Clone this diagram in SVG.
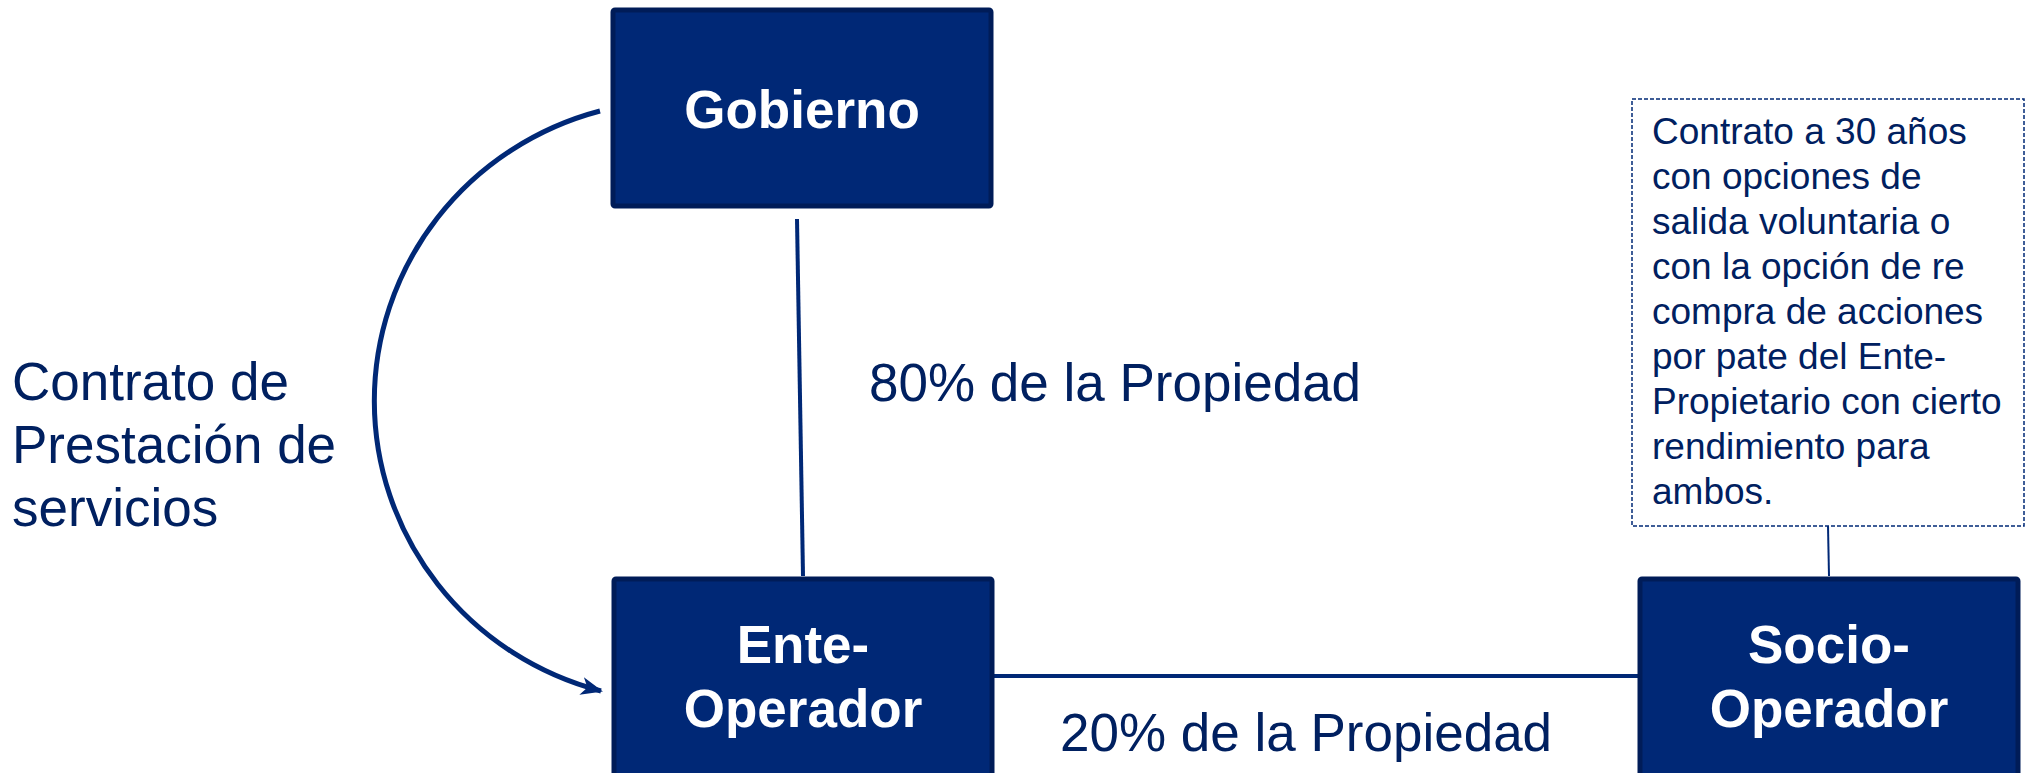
<svg xmlns="http://www.w3.org/2000/svg" width="2033" height="773" viewBox="0 0 2033 773">
  <style>
    .box { fill: #002876; stroke: #001c58; stroke-width: 5; }
    .boxtxt { font-family: "Liberation Sans", Arial, sans-serif; font-weight: bold; font-size: 53px; fill: #ffffff; text-anchor: middle; }
    .lbl { font-family: "Liberation Sans", Arial, sans-serif; font-size: 53px; fill: #002060; }
    .note { font-family: "Liberation Sans", Arial, sans-serif; font-size: 37px; fill: #002060; }
    .conn { stroke: #002876; fill: none; }
  </style>
  <defs>
    <marker id="arrow" viewBox="0 0 22 18" refX="20" refY="9" markerWidth="22" markerHeight="18" markerUnits="userSpaceOnUse" orient="auto">
      <path d="M0,0 L22,9 L0,18 L6,9 Z" fill="#002876"/>
    </marker>
  </defs>
  <rect width="2033" height="773" fill="#ffffff"/>

  <g id="connectors">
    <line class="conn" x1="797" y1="219" x2="803" y2="576" stroke-width="4"/>
    <line class="conn" x1="994" y1="676" x2="1639" y2="676" stroke-width="4"/>
    <line class="conn" x1="1828" y1="526" x2="1829" y2="576" stroke-width="2"/>
    <path class="conn" d="M600,111 A304,300 0 0 0 601,691" stroke-width="5" marker-end="url(#arrow)"/>
  </g>

  <g id="gobierno">
    <rect class="box" x="613" y="10" width="378" height="196" rx="2"/>
    <text class="boxtxt" x="802" y="128">Gobierno</text>
  </g>

  <g id="ente-operador">
    <rect class="box" x="614" y="579" width="378" height="210" rx="2"/>
    <text class="boxtxt" x="803" y="663">Ente-</text>
    <text class="boxtxt" x="803" y="727">Operador</text>
  </g>

  <g id="socio-operador">
    <rect class="box" x="1640" y="579" width="378" height="210" rx="2"/>
    <text class="boxtxt" x="1829" y="663">Socio-</text>
    <text class="boxtxt" x="1829" y="727">Operador</text>
  </g>

  <g id="nota">
    <rect x="1632" y="99" width="392" height="427" fill="#ffffff" stroke="#002876" stroke-width="1.5" stroke-dasharray="4,2"/>
    <text class="note">
      <tspan x="1652" y="144">Contrato a 30 años</tspan>
      <tspan x="1652" y="189">con opciones de</tspan>
      <tspan x="1652" y="234">salida voluntaria o</tspan>
      <tspan x="1652" y="279">con la opción de re</tspan>
      <tspan x="1652" y="324">compra de acciones</tspan>
      <tspan x="1652" y="369">por pate del Ente-</tspan>
      <tspan x="1652" y="414">Propietario con cierto</tspan>
      <tspan x="1652" y="459">rendimiento para</tspan>
      <tspan x="1652" y="504">ambos.</tspan>
    </text>
  </g>

  <g id="labels">
    <text class="lbl" x="12" y="400">Contrato de</text>
    <text class="lbl" x="12" y="463">Prestación de</text>
    <text class="lbl" x="12" y="526">servicios</text>
    <text class="lbl" x="869" y="401">80% de la Propiedad</text>
    <text class="lbl" x="1060" y="751">20% de la Propiedad</text>
  </g>
</svg>
